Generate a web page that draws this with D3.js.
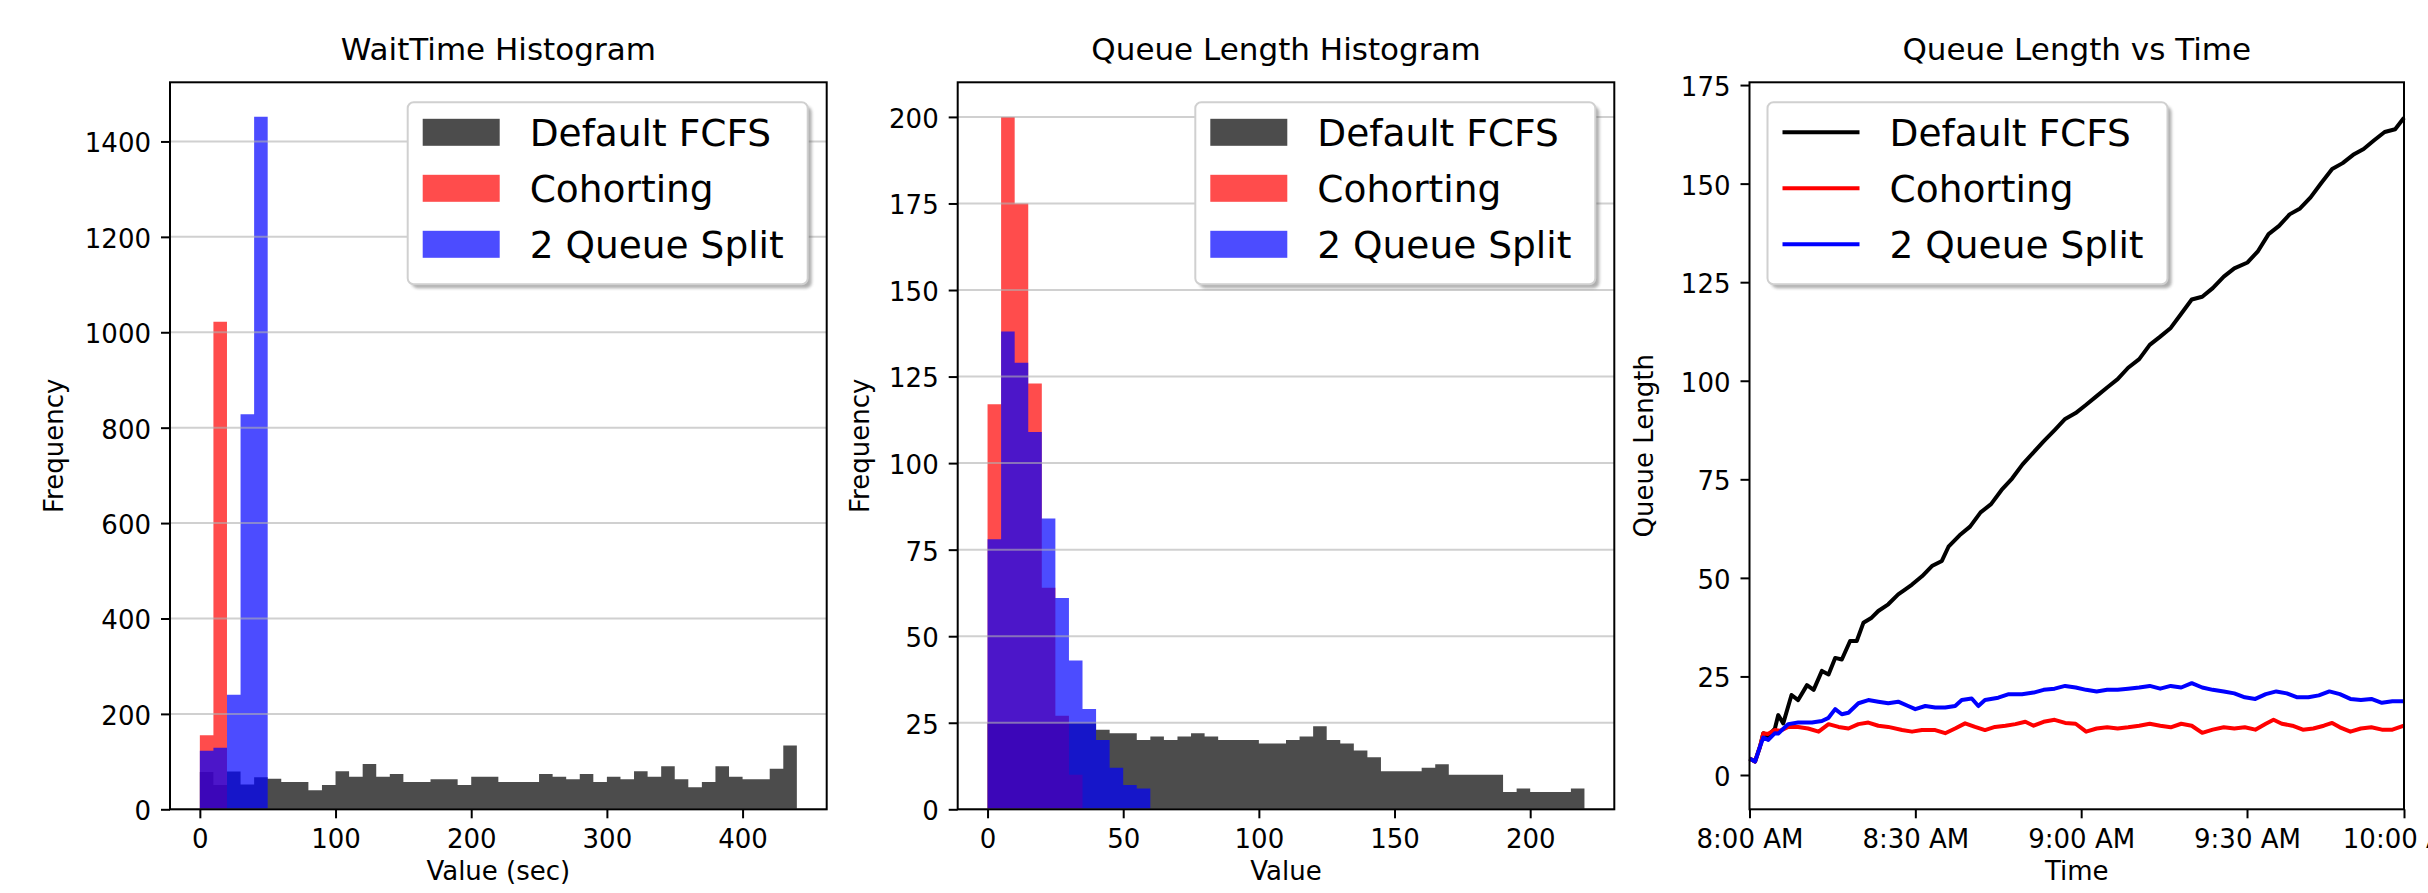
<!DOCTYPE html>
<html lang="en">
<head>
<meta charset="UTF-8">
<title>Wait time and queue length</title>
<script src="https://d3js.org/d3.v7.min.js"></script>
<style>
    body { margin: 0; background: #fff; }
    svg { display: block; font-family: "DejaVu Sans", sans-serif; }
    .title { font-size: 31px; text-anchor: middle; fill: #000; }
    .axis-label { font-size: 26px; text-anchor: middle; fill: #000; }
    .tick text { font-size: 26px; fill: #000; font-family: "DejaVu Sans", sans-serif; }
    .tick line { stroke: #000; stroke-width: 2; }
    .grid line { stroke: #b0b0b0; stroke-opacity: 0.6; stroke-width: 2; }
    .legend text { font-size: 37.5px; fill: #000; }
</style>
</head>
<body>
<svg id="chart" width="2428" height="893"></svg>
<script>
const seriesNames = ["Default FCFS", "Cohorting", "2 Queue Split"];
const seriesColors = ["black", "red", "blue"];

// wait time histogram: counts per 10 sec bin, first bin starts at 0
const waitBinWidth = 10;
const waitFcfs = [78, 51, 79, 52, 67, 64, 57, 57, 40, 51, 80, 68, 95, 68, 74, 57, 57, 63, 63, 51,
                  68, 68, 57, 57, 57, 74, 68, 63, 74, 57, 68, 63, 80, 68, 90, 63, 46, 57, 90, 68,
                  63, 63, 85, 134];
const waitCohort = [155, 1022];
const waitSplit = [123, 129, 240, 828, 1452];
const waitTicksX = [0, 100, 200, 300, 400];
const waitTicksY = [0, 200, 400, 600, 800, 1000, 1200, 1400];

// queue length histogram: counts per bin of 5
const queueBinWidth = 5;
const queueFcfs = [25, 25, 25, 25, 25, 25, 25, 25, 23, 22, 22, 20, 21, 20, 21, 22, 21, 20, 20, 20,
                   19, 19, 20, 21, 24, 20, 19, 17, 15, 11, 11, 11, 12, 13, 10, 10, 10, 10, 5, 6,
                   5, 5, 5, 6];
const queueCohort = [117, 200, 175, 123, 64, 27, 10];
const queueSplit = [78, 138, 129, 109, 84, 61, 43, 29, 20, 12, 7, 6];
const queueTicksX = [0, 50, 100, 150, 200];
const queueTicksY = [0, 25, 50, 75, 100, 125, 150, 175, 200];

// queue length over time: [minutes after 8:00 AM, length]
const fcfsLine = [[0, 4.2], [1.0, 3.4], [1.9, 7.2], [2.5, 10.6], [3.3, 9.8], [4.6, 11.8], [5.2, 15.2],
    [6.1, 13.1], [7.6, 20.3], [8.8, 19.0], [10.4, 22.8], [11.6, 21.6], [13.1, 26.4], [14.3, 25.5],
    [15.5, 29.7], [16.7, 29.3], [18.2, 34.0], [19.4, 34.0], [20.6, 38.6], [22.1, 39.9], [23.3, 41.6],
    [25.1, 43.3], [26.9, 45.8], [28.2, 47.1], [29.4, 48.3], [31.2, 50.4], [33.0, 53.0], [34.8, 54.3],
    [36.0, 57.9], [38.0, 60.8], [39.9, 63.0], [41.8, 66.6], [43.7, 68.7], [45.6, 72.3], [47.5, 75.2],
    [49.4, 78.8], [51.3, 81.7], [53.2, 84.6], [55.2, 87.5], [57.1, 90.3], [59.0, 91.8], [60.9, 93.9],
    [62.8, 96.1], [64.7, 98.3], [66.6, 100.4], [68.5, 103.3], [70.5, 105.5], [72.4, 109.1],
    [74.3, 111.2], [76.2, 113.4], [78.1, 117.0], [80.0, 120.6], [81.9, 121.3], [83.8, 123.5],
    [85.8, 126.4], [87.7, 128.5], [90.1, 130.0], [92.0, 132.9], [93.9, 137.2], [95.8, 139.3],
    [97.7, 142.2], [99.6, 143.7], [101.5, 146.5], [103.4, 150.1], [105.4, 153.7], [107.3, 155.2],
    [109.2, 157.3], [111.1, 158.8], [113.0, 161.0], [114.9, 163.1], [116.8, 163.8], [118.4, 166.7]];
const cohortLine = [[0, 4.2], [1.0, 3.4], [1.9, 7.2], [2.5, 10.6], [3.3, 10.4], [4.6, 11.4], [5.5, 11.2],
    [7.0, 12.2], [8.8, 12.2], [10.6, 11.8], [12.5, 11.0], [14.3, 12.9], [16.1, 12.2], [17.9, 11.8],
    [19.7, 12.9], [21.5, 13.3], [23.3, 12.5], [25.1, 12.2], [27.6, 11.4], [29.4, 11.0], [31.2, 11.4],
    [33.6, 11.4], [35.4, 10.6], [37.2, 11.8], [39.0, 13.1], [40.8, 12.2], [42.6, 11.4], [44.4, 12.2],
    [46.3, 12.5], [48.1, 12.9], [49.9, 13.5], [51.4, 12.5], [53.2, 13.5], [55.2, 14.0], [57.1, 13.2],
    [59.0, 13.0], [60.9, 11.0], [62.8, 11.8], [64.7, 12.1], [66.6, 11.8], [68.5, 12.1], [70.5, 12.5],
    [72.4, 13.0], [74.3, 12.5], [76.2, 12.1], [78.1, 13.0], [80.0, 12.5], [81.9, 10.7], [83.8, 11.5],
    [85.8, 12.1], [87.7, 11.8], [89.6, 12.1], [91.5, 11.5], [93.4, 13.0], [94.8, 14.0], [96.3, 13.0],
    [98.2, 12.5], [100.1, 11.5], [102.0, 11.8], [103.9, 12.5], [105.4, 13.2], [106.8, 12.1],
    [108.7, 11.0], [110.6, 11.8], [112.5, 12.1], [114.4, 11.5], [116.3, 11.5], [118.4, 12.5]];
const splitLine = [[0, 4.2], [1.0, 3.4], [1.9, 7.2], [2.5, 9.5], [3.4, 8.9], [4.6, 10.6], [5.2, 10.5],
    [7.0, 12.9], [8.8, 13.3], [11.3, 13.3], [13.1, 13.7], [14.3, 14.5], [15.5, 16.7], [16.7, 15.4],
    [17.9, 15.8], [19.7, 18.2], [21.5, 19.0], [23.3, 18.6], [25.1, 18.2], [26.9, 18.6], [28.7, 17.5],
    [30.0, 16.7], [31.8, 17.5], [33.6, 17.1], [35.4, 17.1], [37.2, 17.5], [38.4, 19.0], [40.2, 19.4],
    [41.4, 17.5], [42.6, 19.0], [45.0, 19.6], [46.9, 20.5], [49.3, 20.5], [51.4, 20.9], [53.2, 21.6],
    [55.2, 21.9], [57.1, 22.6], [59.0, 22.2], [60.9, 21.6], [62.8, 21.2], [64.7, 21.6], [66.6, 21.6],
    [68.5, 21.9], [70.5, 22.2], [72.4, 22.6], [74.3, 21.9], [76.2, 22.6], [78.1, 22.2], [80.0, 23.3],
    [81.9, 22.2], [83.8, 21.6], [85.8, 21.2], [87.7, 20.7], [89.6, 19.7], [91.5, 19.3], [93.4, 20.5],
    [95.3, 21.2], [97.2, 20.7], [99.1, 19.7], [101.1, 19.7], [103.0, 20.2], [104.9, 21.2],
    [106.8, 20.5], [108.7, 19.3], [110.6, 19.0], [112.5, 19.3], [114.4, 18.3], [116.3, 18.7], [118.4, 18.7]];
const timeTicks = [0, 30, 60, 90, 118.4];
const timeTickLabels = ["8:00 AM", "8:30 AM", "9:00 AM", "9:30 AM", "10:00 AM"];
const lengthTicksY = [0, 25, 50, 75, 100, 125, 150, 175];

// layout
const plotTop = 82.3, plotBottom = 809.3;
const panels = [
    { left: 170, right: 826.7, ylabelX: 62.5 },
    { left: 957.7, right: 1614.3, ylabelX: 868.5 },
    { left: 1749.5, right: 2404, ylabelX: 1652.5 }
];
const plain = d3.format("d");

const svg = d3.select("#chart");

const defs = svg.append("defs");
defs.append("filter").attr("id", "soft")
    .append("feGaussianBlur").attr("stdDeviation", 1.5);

function drawAxes(p, y, xAxis, yAxis, grid) {
    if (grid) {
        svg.append("g").attr("class", "grid")
            .selectAll("line").data(yAxis.tickValues()).join("line")
            .attr("x1", p.left).attr("x2", p.right)
            .attr("y1", d => y(d)).attr("y2", d => y(d));
    }
    svg.append("g").attr("transform", `translate(0,${plotBottom})`)
        .call(xAxis.tickSize(9).tickSizeOuter(0).tickPadding(11))
        .call(g => g.select(".domain").remove());
    svg.append("g").attr("transform", `translate(${p.left},0)`)
        .call(yAxis.tickSize(9).tickSizeOuter(0).tickPadding(10))
        .call(g => g.select(".domain").remove())
        .call(g => g.selectAll(".tick text").attr("dy", "0.4em"));
    svg.append("rect")
        .attr("x", p.left).attr("y", plotTop)
        .attr("width", p.right - p.left).attr("height", plotBottom - plotTop)
        .attr("fill", "none").attr("stroke", "#000").attr("stroke-width", 2);
}

function labels(p, title, xlabel, ylabel) {
    const cx = (p.left + p.right) / 2;
    svg.append("text").attr("class", "title").attr("x", cx).attr("y", 60).text(title);
    svg.append("text").attr("class", "axis-label").attr("x", cx).attr("y", 880).text(xlabel);
    svg.append("text").attr("class", "axis-label")
        .attr("transform", `translate(${p.ylabelX},${(plotTop + plotBottom) / 2}) rotate(-90)`)
        .text(ylabel);
}

function legend(x0, kind) {
    const y0 = 102.3, w = 400, h = 182;
    const g = svg.append("g").attr("class", "legend");
    g.append("rect").attr("x", x0 + 4).attr("y", y0 + 4).attr("width", w).attr("height", h)
        .attr("rx", 6).attr("fill", "#4d4d4d").attr("opacity", 0.45).attr("filter", "url(#soft)");
    g.append("rect").attr("x", x0).attr("y", y0).attr("width", w).attr("height", h)
        .attr("rx", 6).attr("fill", "#fff").attr("stroke", "#d0d0d0").attr("stroke-width", 2);
    seriesNames.forEach((name, i) => {
        const cy = y0 + 30 + i * 56;
        if (kind === "patch") {
            g.append("rect").attr("x", x0 + 15).attr("y", cy - 13.5)
                .attr("width", 77).attr("height", 27)
                .attr("fill", seriesColors[i]).attr("fill-opacity", 0.7);
        } else {
            g.append("line").attr("x1", x0 + 15).attr("x2", x0 + 92)
                .attr("y1", cy).attr("y2", cy)
                .attr("stroke", seriesColors[i]).attr("stroke-width", 4);
        }
        g.append("text").attr("x", x0 + 122).attr("y", cy + 13.4).text(name);
    });
}

function histogram(p, binWidth, series, xDomain, yDomain, xTicks, yTicks) {
    const x = d3.scaleLinear().domain(xDomain).range([p.left, p.right]);
    const y = d3.scaleLinear().domain(yDomain).range([plotBottom, plotTop]);
    const area = d3.area()
        .curve(d3.curveStepAfter)
        .x(d => x(d[0]))
        .y0(y(0))
        .y1(d => y(d[1]));
    series.forEach((counts, i) => {
        const pts = counts.map((c, j) => [j * binWidth, c]);
        pts.push([counts.length * binWidth, counts[counts.length - 1]]);
        svg.append("path").datum(pts)
            .attr("d", area)
            .attr("fill", seriesColors[i])
            .attr("fill-opacity", 0.7);
    });
    drawAxes(p, y,
        d3.axisBottom(x).tickValues(xTicks).tickFormat(plain),
        d3.axisLeft(y).tickValues(yTicks).tickFormat(plain), true);
}

// panel 1: wait time
histogram(panels[0], waitBinWidth, [waitFcfs, waitCohort, waitSplit],
    [-22, 462], [0, 1524], waitTicksX, waitTicksY);
labels(panels[0], "WaitTime Histogram", "Value (sec)", "Frequency");
legend(panels[0].right - 19 - 400, "patch");

// panel 2: queue length
histogram(panels[1], queueBinWidth, [queueFcfs, queueCohort, queueSplit],
    [-11, 231], [0, 210], queueTicksX, queueTicksY);
labels(panels[1], "Queue Length Histogram", "Value", "Frequency");
legend(panels[1].right - 19 - 400, "patch");

// panel 3: queue length over time
{
    const p = panels[2];
    const x = d3.scaleLinear().domain([0, d3.max(fcfsLine, d => d[0])]).range([p.left, p.right]);
    const y = d3.scaleLinear().domain([-8.7, 175.7]).range([plotBottom, plotTop]);
    const line = d3.line().x(d => x(d[0])).y(d => y(d[1]));
    [fcfsLine, cohortLine, splitLine].forEach((data, i) => {
        svg.append("path").datum(data)
            .attr("d", line)
            .attr("fill", "none")
            .attr("stroke", seriesColors[i])
            .attr("stroke-width", 4)
            .attr("stroke-linejoin", "round");
    });
    drawAxes(p, y,
        d3.axisBottom(x).tickValues(timeTicks).tickFormat((d, i) => timeTickLabels[i]),
        d3.axisLeft(y).tickValues(lengthTicksY).tickFormat(plain), false);
    labels(p, "Queue Length vs Time", "Time", "Queue Length");
    legend(p.left + 18, "line");
}
</script>
</body>
</html>
